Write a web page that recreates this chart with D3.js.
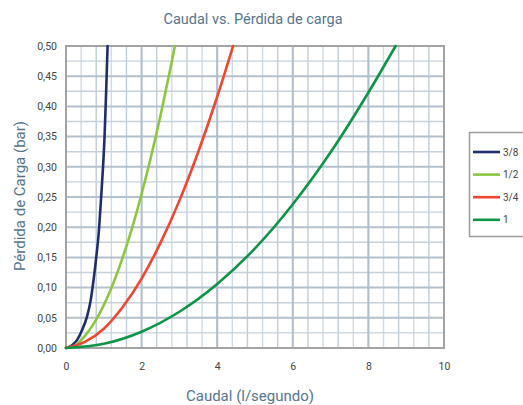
<!DOCTYPE html>
<html>
<head>
<meta charset="utf-8">
<script src="https://cdn.jsdelivr.net/npm/d3@7"></script>
<style>
  body { margin: 0; background: #fff; }
  svg { font-family: Roboto, "DejaVu Sans", sans-serif; }
</style>
</head>
<body>
<div id="chart"></div>
<script>
// series: caudal (l/s) and pérdida de carga (bar)
const seriesNames = ['3/8', '1/2', '3/4', '1'];
const seriesColors = ['#1f2d6b', '#8cc63e', '#f0452f', '#0e9446'];

const q38 = [0, 0.15, 0.29, 0.42, 0.556, 0.65, 0.73, 0.80, 0.865, 0.93, 0.98, 1.02, 1.06, 1.10];
const v38 = [0, 0.004, 0.013, 0.029, 0.052, 0.078, 0.113, 0.150, 0.19, 0.25, 0.30, 0.35, 0.42, 0.50];

const q12 = [0, 0.25, 0.5, 0.75, 1.0, 1.25, 1.5, 1.75, 2.0, 2.25, 2.5, 2.75, 2.88];
const v12 = [0, 0.005, 0.020, 0.042, 0.071, 0.107, 0.150, 0.199, 0.255, 0.317, 0.385, 0.459, 0.50];

const q34 = [0, 0.5, 1, 1.5, 2, 2.5, 3, 3.5, 4, 4.42];
const v34 = [0, 0.010, 0.032, 0.068, 0.115, 0.174, 0.244, 0.325, 0.416, 0.50];

const q1 = [0, 1, 2, 3, 4, 5, 6, 7, 8, 8.72];
const v1 = [0, 0.007, 0.027, 0.060, 0.106, 0.165, 0.238, 0.324, 0.423, 0.50];

const xTicks = [0, 2, 4, 6, 8, 10];
const yTicks = [0, 0.05, 0.10, 0.15, 0.20, 0.25, 0.30, 0.35, 0.40, 0.45, 0.50];

const width = 523, height = 405;
const margin = {top: 46, left: 66, right: 79, bottom: 57};
const innerW = width - margin.left - margin.right;
const innerH = height - margin.top - margin.bottom;

const svg = d3.select('#chart').append('svg')
    .attr('width', width).attr('height', height);

const g = svg.append('g')
    .attr('transform', `translate(${margin.left},${margin.top})`);

const x = d3.scaleLinear().domain([0, 10]).range([0, innerW]);
const y = d3.scaleLinear().domain([0, 0.5]).range([innerH, 0]);

// minor grid
const grid = g.append('g');
grid.selectAll('.vminor')
    .data(d3.range(1, 25).map(i => i * 0.4))
    .enter().append('line')
    .attr('x1', d => x(d)).attr('x2', d => x(d))
    .attr('y1', 0).attr('y2', innerH)
    .attr('stroke', (d, i) => i % 2 ? '#bfcdd8' : '#cfdbe4')
    .attr('stroke-width', 1.4);
grid.selectAll('.hminor')
    .data(d3.range(1, 20).map(i => i * 0.025))
    .enter().append('line')
    .attr('x1', 0).attr('x2', innerW)
    .attr('y1', d => y(d)).attr('y2', d => y(d))
    .attr('stroke', (d, i) => i % 2 ? '#b2c1cd' : '#c5d2dc')
    .attr('stroke-width', (d, i) => i % 2 ? 2 : 1.4);
grid.selectAll('.vmajor')
    .data([2, 4, 6, 8])
    .enter().append('line')
    .attr('x1', d => x(d)).attr('x2', d => x(d))
    .attr('y1', 0).attr('y2', innerH)
    .attr('stroke', '#b0bfcb')
    .attr('stroke-width', 2);

// frame
g.append('rect')
    .attr('width', innerW).attr('height', innerH)
    .attr('fill', 'none').attr('stroke', '#a3a3a3').attr('stroke-width', 2);

// axes
const xAxis = d3.axisBottom(x).tickValues(xTicks).tickSize(0).tickPadding(15)
    .tickFormat(d3.format('d'));
const yAxis = d3.axisLeft(y).tickValues(yTicks).tickSize(0).tickPadding(9)
    .tickFormat(d => d3.format('.2f')(d).replace('.', ','));

g.append('g').attr('class', 'x-axis')
    .attr('transform', `translate(0,${innerH})`)
    .call(xAxis)
    .call(a => a.select('.domain').remove());
g.append('g').attr('class', 'y-axis')
    .call(yAxis)
    .call(a => a.select('.domain').remove());
g.selectAll('.tick text')
    .attr('fill', '#444').style('font-size', '10.5px')
    .style('font-family', 'Roboto, sans-serif');

// lines
const series = [
    {name: seriesNames[0], q: q38, v: v38},
    {name: seriesNames[1], q: q12, v: v12},
    {name: seriesNames[2], q: q34, v: v34},
    {name: seriesNames[3], q: q1, v: v1}
];
const color = d3.scaleOrdinal().domain(seriesNames).range(seriesColors);

const line = d3.line()
    .x(d => x(d[0]))
    .y(d => y(d[1]))
    .curve(d3.curveMonotoneX);

g.selectAll('.line')
    .data(series)
    .enter().append('path')
    .attr('d', s => line(s.q.map((q, i) => [q, s.v[i]])))
    .attr('fill', 'none')
    .attr('stroke', s => color(s.name))
    .attr('stroke-width', 2.6)
    .attr('stroke-linecap', 'round');

// titles
svg.append('text')
    .attr('x', 253).attr('y', 24)
    .attr('text-anchor', 'middle')
    .attr('fill', '#55758d')
    .style('font-size', '14.5px')
    .text('Caudal vs. Pérdida de carga');

svg.append('text')
    .attr('x', 250).attr('y', 401)
    .attr('text-anchor', 'middle')
    .attr('fill', '#55758d')
    .style('font-size', '15px')
    .text('Caudal (l/segundo)');

svg.append('text')
    .attr('transform', 'translate(25,196) rotate(-90)')
    .attr('text-anchor', 'middle')
    .attr('fill', '#55758d')
    .style('font-size', '15px')
    .text('Pérdida de Carga (bar)');

// legend
const legend = svg.append('g');
legend.append('rect')
    .attr('x', 469.5).attr('y', 132.5)
    .attr('width', 60).attr('height', 104)
    .attr('fill', '#fff').attr('stroke', '#9c9c9c').attr('stroke-width', 1.5);
const rows = legend.selectAll('.item')
    .data(seriesNames)
    .enter().append('g')
    .attr('transform', (d, i) => `translate(473,${152 + i * 22.6})`);
rows.append('line')
    .attr('x1', 0).attr('x2', 27)
    .attr('stroke', d => color(d))
    .attr('stroke-width', 2.6);
rows.append('text')
    .attr('x', 30).attr('y', 0)
    .attr('dy', '0.35em')
    .attr('fill', '#444')
    .style('font-size', '10px')
    .text(d => d);
</script>
</body>
</html>
